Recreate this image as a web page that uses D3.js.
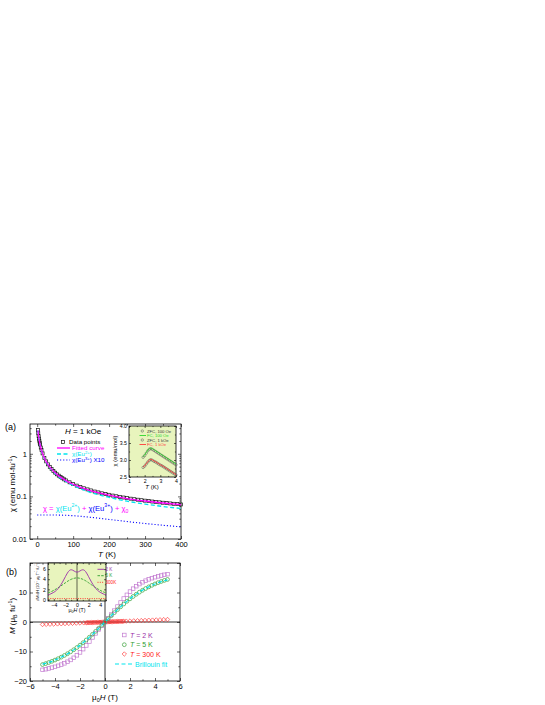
<!DOCTYPE html>
<html>
<head>
<meta charset="utf-8">
<script src="https://cdn.jsdelivr.net/npm/d3@7"></script>
<style>
  body { margin: 0; background: #fff; }
  svg { display: block; font-family: "Liberation Sans", Arial, sans-serif; }
  .axis path { display: none; }
  .axis line { stroke: #000; stroke-width: 0.6; }
  .axis text { fill: #000; }
</style>
</head>
<body>
<svg id="chart" width="545" height="705"></svg>
<script>
// ---- panel (a): susceptibility vs temperature ----
const tempData = [2, 3, 4, 5, 6, 7, 8, 10, 12, 15, 20, 25, 30, 35, 40, 45, 50, 55, 60, 65, 70, 75, 80, 90,
  100, 110, 120, 130, 140, 150, 160, 170, 180, 190, 200, 210, 220, 230, 240, 250, 260, 270, 280,
  290, 300, 310, 320, 330, 340, 350, 360, 370, 380, 390, 400];
const chiData = [3.62, 3.02, 2.59, 2.27, 2.02, 1.82, 1.66, 1.40, 1.22, 1.02, 0.803, 0.663, 0.565, 0.494,
  0.439, 0.395, 0.360, 0.330, 0.306, 0.285, 0.267, 0.251, 0.237, 0.214, 0.195, 0.179, 0.166, 0.155,
  0.146, 0.138, 0.130, 0.124, 0.118, 0.113, 0.109, 0.1045, 0.1007, 0.0973, 0.0941, 0.0911, 0.0884,
  0.0859, 0.0836, 0.0814, 0.0794, 0.0775, 0.0757, 0.0741, 0.0725, 0.0710, 0.0696, 0.0683, 0.0670,
  0.0658, 0.0647];

const tempFit = [2, 3, 4, 5, 7, 10, 15, 20, 30, 40, 50, 60, 80, 100, 125, 150, 175, 200, 250, 300, 350, 400];
const chiFit = [3.55, 2.98, 2.57, 2.25, 1.81, 1.39, 1.01, 0.80, 0.56, 0.435, 0.357, 0.303, 0.235, 0.193,
  0.158, 0.135, 0.119, 0.107, 0.089, 0.078, 0.070, 0.064];
const chiEu2 = [3.54, 2.97, 2.56, 2.24, 1.80, 1.38, 1.0, 0.788, 0.548, 0.423, 0.345, 0.291, 0.223, 0.181,
  0.146, 0.123, 0.107, 0.095, 0.077, 0.066, 0.058, 0.052];

const tempEu3 = [0, 20, 40, 60, 80, 100, 125, 150, 175, 200, 225, 250, 275, 300, 325, 350, 375, 400];
const chiEu3x10 = [0.0365, 0.0366, 0.0366, 0.0364, 0.036, 0.0352, 0.0338, 0.0322, 0.0305, 0.0288, 0.0272,
  0.0257, 0.0243, 0.0231, 0.0220, 0.0210, 0.0201, 0.0193];

// inset (a): low temperature ZFC / FC
const tempLow = [1.9, 2.0, 2.1, 2.2, 2.3, 2.4, 2.5, 2.6, 2.7, 2.8, 2.9, 3.0, 3.1, 3.2, 3.3, 3.4, 3.5, 3.6,
  3.7, 3.8, 3.9, 4.0];
const zfc100 = [3.08, 3.13, 3.20, 3.27, 3.32, 3.33, 3.31, 3.28, 3.25, 3.22, 3.19, 3.16, 3.13, 3.10, 3.07,
  3.04, 3.01, 2.98, 2.95, 2.92, 2.89, 2.86];
const fc100 = [3.10, 3.15, 3.22, 3.29, 3.34, 3.35, 3.33, 3.30, 3.27, 3.24, 3.21, 3.18, 3.15, 3.12, 3.09,
  3.06, 3.03, 3.00, 2.97, 2.94, 2.91, 2.88];
const zfc1k = [2.78, 2.82, 2.88, 2.94, 2.99, 3.01, 2.99, 2.96, 2.94, 2.91, 2.88, 2.85, 2.83, 2.80, 2.77,
  2.74, 2.71, 2.68, 2.65, 2.62, 2.59, 2.56];
const fc1k = [2.79, 2.83, 2.89, 2.95, 3.00, 3.02, 3.00, 2.97, 2.95, 2.92, 2.89, 2.86, 2.84, 2.81, 2.78,
  2.75, 2.72, 2.69, 2.66, 2.63, 2.60, 2.57];

// ---- panel (b): magnetisation vs field ----
const field = [-5, -4.75, -4.5, -4.25, -4, -3.75, -3.5, -3.25, -3, -2.75, -2.5, -2.25, -2, -1.75, -1.5,
  -1.25, -1, -0.75, -0.5, -0.25, 0, 0.25, 0.5, 0.75, 1, 1.25, 1.5, 1.75, 2, 2.25, 2.5, 2.75, 3, 3.25,
  3.5, 3.75, 4, 4.25, 4.5, 4.75, 5];
const m2K = [-16.22, -16.0, -15.75, -15.48, -15.19, -14.85, -14.46, -14.0, -13.48, -12.86, -12.14, -11.29,
  -10.31, -9.2, -7.95, -6.61, -5.23, -3.85, -2.52, -1.25, 0, 1.25, 2.52, 3.85, 5.23, 6.61, 7.95, 9.2,
  10.31, 11.29, 12.14, 12.86, 13.48, 14.0, 14.46, 14.85, 15.19, 15.48, 15.75, 16.0, 16.22];
const m5K = [-14.43, -14.1, -13.73, -13.33, -12.9, -12.43, -11.91, -11.35, -10.75, -10.1, -9.4, -8.65,
  -7.85, -7.0, -6.1, -5.16, -4.18, -3.17, -2.13, -1.07, 0, 1.07, 2.13, 3.17, 4.18, 5.16, 6.1, 7.0, 7.85,
  8.65, 9.4, 10.1, 10.75, 11.35, 11.91, 12.43, 12.9, 13.33, 13.73, 14.1, 14.43];

const field300 = [-5, -4.7, -4.4, -4.1, -3.8, -3.5, -3.2, -2.9, -2.6, -2.3, -2.0, -1.7, -1.5, -1.4, -1.3,
  -1.2, -1.1, -1.0, -0.9, -0.8, -0.7, -0.6, -0.5, -0.4, -0.3, -0.2, -0.1, 0, 0.1, 0.2, 0.3, 0.4, 0.5,
  0.6, 0.7, 0.8, 0.9, 1.0, 1.1, 1.2, 1.3, 1.4, 1.5, 1.7, 2.0, 2.3, 2.6, 2.9, 3.2, 3.5, 3.8, 4.1, 4.4,
  4.7, 5.0];
const m300K = [-0.85, -0.80, -0.75, -0.70, -0.65, -0.60, -0.54, -0.49, -0.44, -0.39, -0.34, -0.29, -0.26,
  -0.24, -0.22, -0.20, -0.19, -0.17, -0.15, -0.14, -0.12, -0.10, -0.09, -0.07, -0.05, -0.03, -0.02, 0,
  0.02, 0.03, 0.05, 0.07, 0.09, 0.10, 0.12, 0.14, 0.15, 0.17, 0.19, 0.20, 0.22, 0.24, 0.26, 0.29, 0.34,
  0.39, 0.44, 0.49, 0.54, 0.60, 0.65, 0.70, 0.75, 0.80, 0.85];

const fieldFit = [-5, -4.5, -4, -3.5, -3, -2.5, -2, -1.5, -1, -0.5, 0, 0.5, 1, 1.5, 2, 2.5, 3, 3.5, 4, 4.5, 5];
const mBrillouin = [-14.3, -13.7, -12.9, -11.9, -10.8, -9.45, -7.9, -6.1, -4.2, -2.15, 0, 2.15, 4.2, 6.1,
  7.9, 9.45, 10.8, 11.9, 12.9, 13.7, 14.3];

// inset (b): dM/dH
const dmdh2K = [0.9, 1.1, 1.4, 1.8, 2.5, 3.4, 4.5, 5.6, 6.0, 5.6, 5.3, 5.6, 6.0, 5.6, 4.5, 3.4, 2.5, 1.8,
  1.4, 1.1, 0.9];
const dmdh5K = [1.3, 1.5, 1.8, 2.15, 2.5, 2.9, 3.3, 3.7, 4.0, 4.2, 4.3, 4.2, 4.0, 3.7, 3.3, 2.9, 2.5, 2.15,
  1.8, 1.5, 1.3];
const dmdh300K = [0.17, 0.17, 0.17, 0.17, 0.17, 0.17, 0.17, 0.17, 0.17, 0.17, 0.17, 0.17, 0.17, 0.17,
  0.17, 0.17, 0.17, 0.17, 0.17, 0.17, 0.17];

const C = {
  magenta: "#ff00ff", cyan: "#00e5ee", blue: "#0000ff", green: "#2e9e2e", red: "#ff2020",
  purple: "#9a2fa8", purpleLight: "#c27ad0", greenLight: "#3aa03a", inset: "#e8f4bd"
};

const svg = d3.select("#chart");
const zip = (xs, ys) => xs.map((x, i) => [x, ys[i]]);

function rich(textSel, parts, size) {
  let cur = 0;
  parts.forEach((p) => {
    const s = typeof p === "string" ? { t: p } : p;
    const ts = textSel.append("tspan").text(s.t);
    let target = 0;
    if (s.sup) { target = -size * 0.4; ts.attr("font-size", size * 0.68); }
    if (s.sub) { target = size * 0.28; ts.attr("font-size", size * 0.68); }
    if (target !== cur) ts.attr("dy", target - cur);
    cur = target;
    if (s.fill) ts.attr("fill", s.fill);
    if (s.i) ts.attr("font-style", "italic");
  });
  return textSel;
}

function frameAxes(g, x, y, o) {
  const [xa, xb] = x.range();
  const [yb, ya] = y.range();
  const big = o.major, small = o.minor, fs = o.fontSize;
  const add = (axis, tr, vals, size, fmt) => {
    const a = g.append("g").attr("class", "axis").attr("transform", tr)
      .call(axis.tickValues(vals).tickSize(-size).tickPadding(o.pad).tickFormat(fmt || (() => "")));
    a.selectAll("text").attr("font-size", fs);
    return a;
  };
  add(d3.axisBottom(x), `translate(0,${yb})`, o.xTicks, big, o.xFmt);
  add(d3.axisBottom(x), `translate(0,${yb})`, o.xMinor, small);
  add(d3.axisTop(x), `translate(0,${ya})`, o.xTicks, big);
  add(d3.axisTop(x), `translate(0,${ya})`, o.xMinor, small);
  add(d3.axisLeft(y), `translate(${xa},0)`, o.yTicks, big, o.yFmt);
  add(d3.axisLeft(y), `translate(${xa},0)`, o.yMinor, small);
  add(d3.axisRight(y), `translate(${xb},0)`, o.yTicks, big);
  add(d3.axisRight(y), `translate(${xb},0)`, o.yMinor, small);
  g.append("rect").attr("x", xa).attr("y", ya).attr("width", xb - xa).attr("height", yb - ya)
    .attr("fill", "none").attr("stroke", "#000").attr("stroke-width", 0.8);
}

// ================= panel (a) =================
const ga = svg.append("g");
const xA = d3.scaleLinear().domain([-20, 400]).range([30, 181]);
const yA = d3.scaleLog().domain([0.01, 5]).range([539, 424]);

const logMinor = [0.02, 0.03, 0.04, 0.05, 0.06, 0.07, 0.08, 0.09, 0.2, 0.3, 0.4, 0.5, 0.6, 0.7, 0.8, 0.9, 2, 3, 4];
frameAxes(ga, xA, yA, {
  major: 3, minor: 1.7, pad: 3, fontSize: 7.5,
  xTicks: [0, 100, 200, 300, 400], xMinor: [50, 150, 250, 350], xFmt: d3.format("d"),
  yTicks: [0.01, 0.1, 1], yMinor: logMinor, yFmt: (d) => String(d)
});

const lineA = (xs, ys) => d3.line().x((d) => xA(d[0])).y((d) => yA(d[1])).curve(d3.curveMonotoneX)(zip(xs, ys));

ga.append("path").attr("d", lineA(tempEu3, chiEu3x10)).attr("fill", "none")
  .attr("stroke", C.blue).attr("stroke-width", 1.1).attr("stroke-dasharray", "1.1,2");

ga.selectAll(".sq").data(zip(tempData, chiData)).join("rect").attr("class", "sq")
  .attr("x", (d) => xA(d[0]) - 1.5).attr("y", (d) => yA(d[1]) - 1.5)
  .attr("width", 3).attr("height", 3).attr("fill", "none").attr("stroke", "#111").attr("stroke-width", 0.7);

ga.append("path").attr("d", lineA(tempFit, chiEu2)).attr("fill", "none")
  .attr("stroke", C.cyan).attr("stroke-width", 1.3).attr("stroke-dasharray", "4,2.5");
ga.append("path").attr("d", lineA(tempFit, chiFit)).attr("fill", "none")
  .attr("stroke", C.magenta).attr("stroke-width", 1.3);

// legend (a)
const legA = ga.append("g").attr("font-size", 6.2);
legA.append("rect").attr("x", 61.5).attr("y", 440.5).attr("width", 3).attr("height", 3)
  .attr("fill", "none").attr("stroke", "#111").attr("stroke-width", 0.7);
legA.append("text").attr("x", 69).attr("y", 444.3).text("Data points");
legA.append("line").attr("x1", 57).attr("x2", 70).attr("y1", 448).attr("y2", 448)
  .attr("stroke", C.magenta).attr("stroke-width", 1.3);
legA.append("text").attr("x", 72).attr("y", 450.3).attr("fill", C.magenta).text("Fitted curve");
legA.append("line").attr("x1", 57).attr("x2", 70).attr("y1", 454).attr("y2", 454)
  .attr("stroke", C.cyan).attr("stroke-width", 1.3).attr("stroke-dasharray", "4,2.5");
rich(legA.append("text").attr("x", 72).attr("y", 456.3).attr("fill", C.cyan),
  ["χ(Eu", { t: "2+", sup: true }, ")"], 6.2);
legA.append("line").attr("x1", 57).attr("x2", 70).attr("y1", 460).attr("y2", 460)
  .attr("stroke", C.blue).attr("stroke-width", 1.1).attr("stroke-dasharray", "1.1,2");
rich(legA.append("text").attr("x", 72).attr("y", 462.3).attr("fill", C.blue),
  ["χ(Eu", { t: "3+", sup: true }, ") X10"], 6.2);

rich(ga.append("text").attr("x", 83).attr("y", 434).attr("text-anchor", "middle").attr("font-size", 8),
  [{ t: "H", i: true }, " = 1 kOe"], 8);

rich(ga.append("text").attr("x", 43).attr("y", 510.5).attr("font-size", 7.6),
  [{ t: "χ = ", fill: C.magenta }, { t: "χ(Eu", fill: C.cyan }, { t: "2+", sup: true, fill: C.cyan },
   { t: ")", fill: C.cyan }, { t: " + ", fill: C.magenta }, { t: "χ(Eu", fill: C.blue },
   { t: "3+", sup: true, fill: C.blue }, { t: ")", fill: C.blue }, { t: " + ", fill: C.magenta },
   { t: "χ", fill: C.magenta }, { t: "0", sub: true, fill: C.magenta }], 7.6);

ga.append("text").attr("x", 5).attr("y", 430).attr("font-size", 9).text("(a)");
rich(ga.append("text").attr("transform", "translate(15,484) rotate(-90)").attr("text-anchor", "middle")
  .attr("font-size", 8), ["χ (emu mol-fu", { t: "-1", sup: true }, ")"], 8);
rich(ga.append("text").attr("x", 107).attr("y", 557).attr("text-anchor", "middle").attr("font-size", 8),
  [{ t: "T", i: true }, " (K)"], 8);

// inset (a)
const xI = d3.scaleLinear().domain([1, 4]).range([129, 176]);
const yI = d3.scaleLinear().domain([2.5, 4.0]).range([477, 426]);
ga.append("rect").attr("x", 129).attr("y", 426).attr("width", 47).attr("height", 51).attr("fill", C.inset);
frameAxes(ga, xI, yI, {
  major: 2, minor: 1.1, pad: 2, fontSize: 5.2,
  xTicks: [1, 2, 3, 4], xMinor: [1.5, 2.5, 3.5], xFmt: d3.format("d"),
  yTicks: [2.5, 3.0, 3.5, 4.0], yMinor: [2.75, 3.25, 3.75], yFmt: d3.format(".1f")
});
const lineI = (xs, ys) => d3.line().x((d) => xI(d[0])).y((d) => yI(d[1])).curve(d3.curveMonotoneX)(zip(xs, ys));
[[zfc100, fc100, "#2bd62b"], [zfc1k, fc1k, "#ff3b3b"]].forEach(([zfc, fc, col]) => {
  ga.append("g").selectAll("circle").data(zip(tempLow, zfc)).join("circle")
    .attr("cx", (d) => xI(d[0])).attr("cy", (d) => yI(d[1])).attr("r", 1.2)
    .attr("fill", "none").attr("stroke", "#555").attr("stroke-width", 0.5);
  ga.append("path").attr("d", lineI(tempLow, fc)).attr("fill", "none").attr("stroke", col).attr("stroke-width", 0.9);
});
const legI = ga.append("g").attr("font-size", 4.2);
[["ZFC, 100 Oe", null, "#333", 431], ["FC, 100 Oe", "#2bd62b", "#2bd62b", 435.5],
 ["ZFC, 1 kOe", null, "#333", 440], ["FC, 1 kOe", "#ff3b3b", "#ff3b3b", 444.5]].forEach(([lab, line, col, y]) => {
  if (line) {
    legI.append("line").attr("x1", 139.5).attr("x2", 146).attr("y1", y).attr("y2", y)
      .attr("stroke", line).attr("stroke-width", 0.9);
  } else {
    legI.append("circle").attr("cx", 142.3).attr("cy", y).attr("r", 1.2)
      .attr("fill", "none").attr("stroke", "#555").attr("stroke-width", 0.5);
  }
  legI.append("text").attr("x", 147).attr("y", y + 1.5).attr("fill", col).text(lab);
});
ga.append("text").attr("transform", "translate(117,451) rotate(-90)").attr("text-anchor", "middle")
  .attr("font-size", 5.8).text("χ (emu/mol)");
rich(ga.append("text").attr("x", 152).attr("y", 489).attr("text-anchor", "middle").attr("font-size", 6),
  [{ t: "T", i: true }, " (K)"], 6);

// ================= panel (b) =================
const gb = svg.append("g");
const xB = d3.scaleLinear().domain([-6, 6]).range([30, 180]);
const yB = d3.scaleLinear().domain([-20, 20]).range([681, 563]);

frameAxes(gb, xB, yB, {
  major: 3, minor: 1.7, pad: 3, fontSize: 7.5,
  xTicks: [-6, -4, -2, 0, 2, 4, 6], xMinor: [-5, -3, -1, 1, 3, 5], xFmt: d3.format("d"),
  yTicks: [-20, -10, 0, 10, 20], yMinor: [-15, -5, 5, 15], yFmt: (d) => (d === 20 ? "" : d3.format("d")(d))
});
gb.append("line").attr("x1", xB(-6)).attr("x2", xB(6)).attr("y1", yB(0)).attr("y2", yB(0))
  .attr("stroke", "#000").attr("stroke-width", 0.8);
gb.append("line").attr("x1", xB(0)).attr("x2", xB(0)).attr("y1", yB(-20)).attr("y2", yB(20))
  .attr("stroke", "#000").attr("stroke-width", 0.8);

const diamond = (cx, cy, r) => `M${cx},${cy - r}L${cx + r},${cy}L${cx},${cy + r}L${cx - r},${cy}Z`;

gb.append("g").selectAll("path").data(zip(field300, m300K)).join("path")
  .attr("d", (d) => diamond(xB(d[0]), yB(d[1]), 2.2))
  .attr("fill", "none").attr("stroke", C.red).attr("stroke-width", 0.6);
gb.append("g").selectAll("rect").data(zip(field, m2K)).join("rect")
  .attr("x", (d) => xB(d[0]) - 1.8).attr("y", (d) => yB(d[1]) - 1.8).attr("width", 3.6).attr("height", 3.6)
  .attr("fill", "none").attr("stroke", C.purpleLight).attr("stroke-width", 0.7);
gb.append("g").selectAll("circle").data(zip(field, m5K)).join("circle")
  .attr("cx", (d) => xB(d[0])).attr("cy", (d) => yB(d[1])).attr("r", 1.9)
  .attr("fill", "none").attr("stroke", C.greenLight).attr("stroke-width", 0.7);
gb.append("path")
  .attr("d", d3.line().x((d) => xB(d[0])).y((d) => yB(d[1])).curve(d3.curveMonotoneX)(zip(fieldFit, mBrillouin)))
  .attr("fill", "none").attr("stroke", C.cyan).attr("stroke-width", 1.2).attr("stroke-dasharray", "4,2.5");

// legend (b)
const legB = gb.append("g").attr("font-size", 7);
legB.append("rect").attr("x", 122.5).attr("y", 633.2).attr("width", 3.6).attr("height", 3.6)
  .attr("fill", "none").attr("stroke", C.purpleLight).attr("stroke-width", 0.7);
rich(legB.append("text").attr("x", 130).attr("y", 637.5).attr("fill", C.purple), [{ t: "T", i: true }, " = 2 K"], 7);
legB.append("circle").attr("cx", 124.3).attr("cy", 644.7).attr("r", 1.9)
  .attr("fill", "none").attr("stroke", C.greenLight).attr("stroke-width", 0.7);
rich(legB.append("text").attr("x", 130).attr("y", 647.2).attr("fill", C.green), [{ t: "T", i: true }, " = 5 K"], 7);
legB.append("path").attr("d", diamond(124.3, 654, 2.2))
  .attr("fill", "none").attr("stroke", C.red).attr("stroke-width", 0.6);
rich(legB.append("text").attr("x", 130).attr("y", 656.5).attr("fill", C.red), [{ t: "T", i: true }, " = 300 K"], 7);
legB.append("line").attr("x1", 115).attr("x2", 132.5).attr("y1", 664).attr("y2", 664)
  .attr("stroke", C.cyan).attr("stroke-width", 1.2).attr("stroke-dasharray", "4,2.5");
legB.append("text").attr("x", 135).attr("y", 666.5).attr("fill", C.cyan).text("Brillouin fit");

gb.append("text").attr("x", 6).attr("y", 575).attr("font-size", 9).text("(b)");
rich(gb.append("text").attr("transform", "translate(15,616) rotate(-90)").attr("text-anchor", "middle")
  .attr("font-size", 8),
  [{ t: "M", i: true }, " (μ", { t: "B", sub: true }, " fu", { t: "-1", sup: true }, ")"], 8);
rich(gb.append("text").attr("x", 105).attr("y", 700).attr("text-anchor", "middle").attr("font-size", 8),
  ["μ", { t: "0", sub: true }, { t: "H", i: true }, " (T)"], 8);

// inset (b)
const xIb = d3.scaleLinear().domain([-5, 5]).range([48, 106]);
const yIb = d3.scaleLinear().domain([-0.3, 7.2]).range([601, 563]);
gb.append("rect").attr("x", 48).attr("y", 563).attr("width", 58).attr("height", 38).attr("fill", C.inset);
frameAxes(gb, xIb, yIb, {
  major: 2, minor: 1.1, pad: 2, fontSize: 5.2,
  xTicks: [-4, -2, 0, 2, 4], xMinor: [-5, -3, -1, 1, 3, 5], xFmt: d3.format("d"),
  yTicks: [0, 2, 4, 6], yMinor: [1, 3, 5, 7], yFmt: d3.format("d")
});
gb.append("line").attr("x1", xIb(0)).attr("x2", xIb(0)).attr("y1", 563).attr("y2", 601)
  .attr("stroke", "#000").attr("stroke-width", 0.6);
const lineIb = (ys) => d3.line().x((d) => xIb(d[0])).y((d) => yIb(d[1])).curve(d3.curveBasis)(zip(fieldFit, ys));
gb.append("path").attr("d", lineIb(dmdh300K)).attr("fill", "none").attr("stroke", C.red)
  .attr("stroke-width", 0.9).attr("stroke-dasharray", "1,1.3");
gb.append("path").attr("d", lineIb(dmdh5K)).attr("fill", "none").attr("stroke", C.green)
  .attr("stroke-width", 0.9).attr("stroke-dasharray", "2.5,1.2");
gb.append("path").attr("d", lineIb(dmdh2K)).attr("fill", "none").attr("stroke", C.purple).attr("stroke-width", 0.9);

const legIb = gb.append("g").attr("font-size", 4.6);
[["2 K", C.purple, null, 569.3], ["5 K", C.green, "2.5,1.2", 575.7], ["300K", C.red, "1,1.3", 582.3]]
  .forEach(([lab, col, dash, y]) => {
    legIb.append("line").attr("x1", 97.5).attr("x2", 104).attr("y1", y).attr("y2", y)
      .attr("stroke", col).attr("stroke-width", 0.9).attr("stroke-dasharray", dash);
    legIb.append("text").attr("x", 105.5).attr("y", y + 1.6).attr("fill", col).text(lab);
  });
rich(gb.append("text").attr("transform", "translate(39,582) rotate(-90)").attr("text-anchor", "middle")
  .attr("font-size", 3.8),
  ["dM/dH (10", { t: "-1", sup: true }, " μ", { t: "B", sub: true }, " T", { t: "-1", sup: true },
   " fu", { t: "-1", sup: true }, ")"], 3.8);
rich(gb.append("text").attr("x", 77).attr("y", 612).attr("text-anchor", "middle").attr("font-size", 5.2),
  ["μ", { t: "0", sub: true }, { t: "H", i: true }, " (T)"], 5.2);
</script>
</body>
</html>
